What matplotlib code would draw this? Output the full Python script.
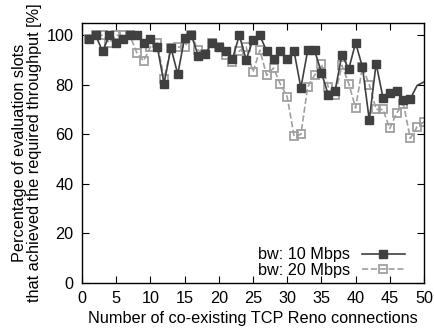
import matplotlib
matplotlib.use("Agg")
import matplotlib.pyplot as plt
import numpy as np

plt.rcParams['font.family'] = ['Liberation Sans', 'DejaVu Sans']

connections = list(range(1, 51))
bw10 = [98.4, 100, 93.6, 100, 97, 98.5, 100, 100, 97, 98.4,
        95.5, 80.5, 95, 84.3, 99, 100, 91.7, 92.3, 97, 95.3,
        93.6, 90.6, 100, 90.2, 98.3, 100, 93.6, 90.6, 93.6, 90.6,
        93.6, 78.8, 94, 94, 85, 76, 77.6, 92.2, 86.4, 97,
        87.2, 65.8, 88.6, 74.9, 76.8, 77.6, 74.1, 74.4, 79.8, 81.2]
bw20 = [98.4, 100, 100, 97, 100, 100, 100, 93, 89.7, 95.3,
        97, 82.5, 95, 95.3, 95.3, 100, 94, 92.6, 97, 95.3,
        92, 89.3, 93.7, 95.3, 85.2, 94, 83.9, 86.8, 80.3, 75.2,
        59.3, 60, 79.2, 83.9, 88.3, 79.2, 76.1, 87.9, 80.5, 70.7,
        87.2, 80.1, 70.1, 70.1, 62.4, 68.7, 72.2, 58.4, 63.1, 65.1]
labels = ["bw: 10 Mbps", "bw: 20 Mbps"]

FS = 11.7
fig = plt.figure(figsize=(4.35, 3.29), dpi=100)
ax = fig.add_axes([82/435, 1-283/329, (424-82)/435, (283-23)/329])

ax.plot(connections, bw20, color='#a0a0a0', linestyle='--', linewidth=1.2,
        marker='s', markersize=5.5, markerfacecolor='none', markeredgecolor='#a0a0a0',
        markeredgewidth=1.3, label=labels[1], zorder=2)
ax.plot(connections, bw10, color='#404040', linestyle='-', linewidth=1.2,
        marker='s', markersize=5.5, markerfacecolor='#404040', markeredgecolor='#404040',
        markevery=list(range(0, 48)), label=labels[0], zorder=3)

ax.set_xlim(0, 50)
ax.set_ylim(0, 105)
ax.set_xticks(range(0, 51, 5))
ax.set_yticks(range(0, 101, 20))
ax.tick_params(direction='in', top=True, right=True, length=5, labelsize=FS, pad=6)
for s in ax.spines.values():
    s.set_linewidth(1.0)

ax.set_xlabel("Number of co-existing TCP Reno connections", fontsize=FS, labelpad=3.5)
ax.set_ylabel("Percentage of evaluation slots\nthat achieved the required throughput [%]",
              fontsize=FS, labelpad=3, linespacing=1.0)

handles, labs = ax.get_legend_handles_labels()
order = [1, 0]
leg = ax.legend([handles[i] for i in order], [labs[i] for i in order],
                loc='lower right', bbox_to_anchor=(0.963, -0.005),
                frameon=False, markerfirst=False,
                fontsize=FS, handlelength=2.65, borderaxespad=0.0,
                labelspacing=0.03, handletextpad=0.7)
for t in leg.get_texts():
    t.set_ha('right')

fig.savefig("out.png", dpi=100)
